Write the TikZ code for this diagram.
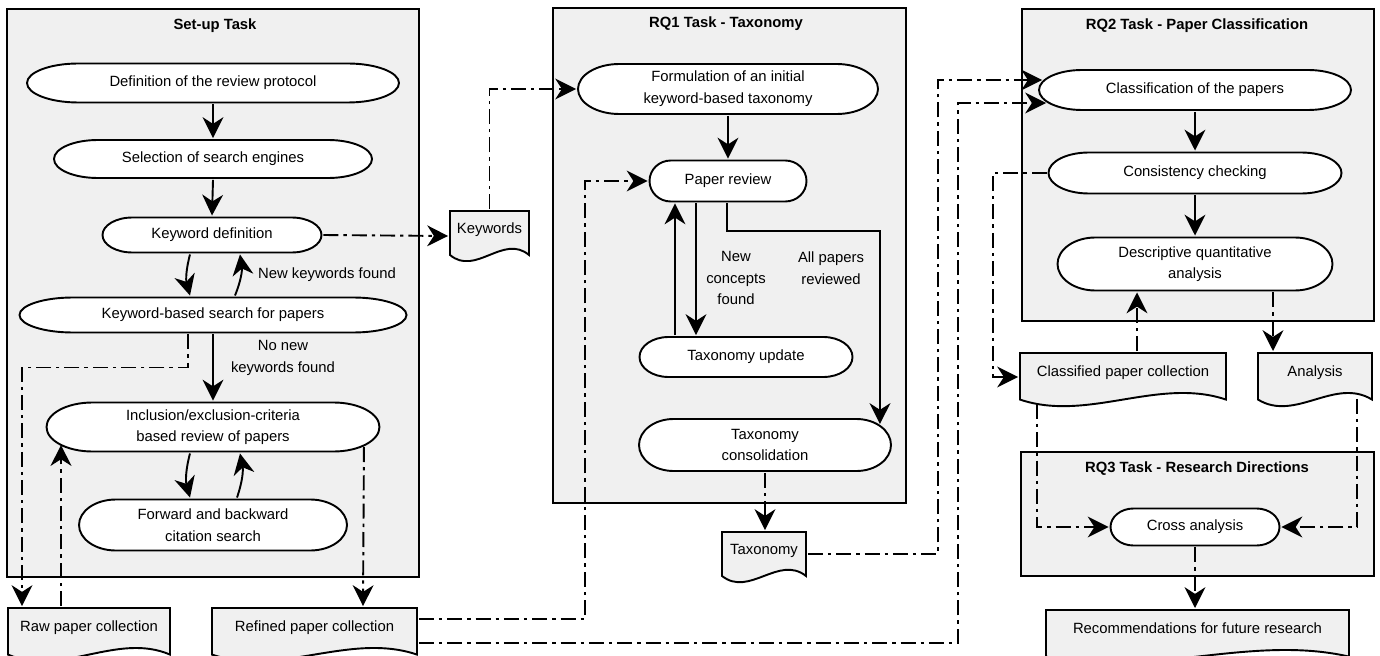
\documentclass[tikz,border=0pt]{standalone}
\usepackage{fontspec}
\setmainfont{Liberation Sans}
\usepackage{tikz}
\usetikzlibrary{calc,arrows.meta}
\definecolor{taskgray}{HTML}{F0F0F0}

\begin{document}
\begin{tikzpicture}[x=0.6pt, y=-0.6pt, line width=1.15pt,
    every node/.style={font=\fontsize{8.9pt}{13pt}\selectfont},
    arr/.style={-{Stealth[length=12.5pt,width=12.5pt,inset=4pt]}},
    dataflow/.style={arr, dash pattern=on 9pt off 3pt on 2pt off 3pt},
    taskbox/.style 2 args={draw, fill=taskgray, inner sep=0pt,
      minimum width=#1*0.6pt, minimum height=#2*0.6pt},
    tasktitle/.style={font=\fontsize{8.9pt}{13pt}\selectfont\bfseries},
    note/.style={align=center},
    proc/.style 2 args={rectangle, inner sep=1pt, align=center,
      minimum width=#1*0.6pt, minimum height=#2*0.6pt,
      path picture={
        \draw[fill=white] let \p1=(path picture bounding box.south west),
          \p2=(path picture bounding box.north east),
          \n1={0.14*(\x2-\x1)}, \n2={0.5*(\y2-\y1)-0.6}
          in (\x1+\n1*1pt,\y2-0.6pt) -- (\x2-\n1*1pt,\y2-0.6pt)
          arc[start angle=90, end angle=-90, x radius=\n1*1pt-0.6pt, y radius=\n2*1pt]
          -- (\x1+\n1*1pt,\y1+0.6pt)
          arc[start angle=270, end angle=90, x radius=\n1*1pt-0.6pt, y radius=\n2*1pt]
          -- cycle;
      }},
    docshape/.style 2 args={rectangle, inner sep=1pt,
      minimum width=#1*0.6pt, minimum height=#2*0.6pt,
      text height=6.5pt, text depth=9.7pt,
      path picture={
        \draw[fill=taskgray] let \p1=(path picture bounding box.south west),
          \p2=(path picture bounding box.north east),
          \n1={\x2-\x1}, \n2={\y2-\y1}
          in (\x1+0.6pt,\y2-0.6pt) -- (\x2-0.6pt,\y2-0.6pt)
          -- (\x2-0.6pt,\y1+0.135*\n2*1pt)
          .. controls (\x1+0.67*\n1*1pt,\y1+0.55*\n2*1pt) and (\x1+0.33*\n1*1pt,\y1-0.28*\n2*1pt)
          .. (\x1+0.6pt,\y1+0.135*\n2*1pt) -- cycle;
      }}]
        \useasboundingbox (0,0) rectangle (1380,656);

        % task boxes
        \node[taskbox={412}{568}] (setup) at (213,293) {};
        \node[taskbox={353}{495}] (rq1) at (729.5,255.5) {};
        \node[taskbox={352}{312}] (rq2) at (1198,165) {};
        \node[taskbox={353}{124}] (rq3) at (1197.5,514) {};
        \node[tasktitle] (setupt) at (215,26) {Set-up Task};
        \node[tasktitle] (rq1t) at (726,24) {RQ1 Task - Taxonomy};
        \node[tasktitle] (rq2t) at (1197,26) {RQ2 Task - Paper Classification};
        \node[tasktitle] (rq3t) at (1197,469) {RQ3 Task - Research Directions};

        % set-up task
        \node[proc={374}{41}] (defn) at (213,83) {Definition of the review protocol};
        \node[proc={320}{40}] (engines) at (213,159) {Selection of search engines};
        \node[proc={221}{37}] (kwdef) at (212,235) {Keyword definition};
        \node[proc={389}{37}] (kwsearch) at (213,315) {Keyword-based search for papers};
        \node[proc={335}{51}] (incl) at (213,427) {Inclusion/exclusion-criteria\\based review of papers};
        \node[proc={270}{53}] (fwd) at (213,525) {Forward and backward\\citation search};

        % RQ1
        \node[proc={302}{52}] (formul) at (728,89) {Formulation of an initial\\keyword-based taxonomy};
        \node[proc={159}{43}] (review) at (728,181) {Paper review};
        \node[proc={215}{42}] (update) at (746,357) {Taxonomy update};
        \node[proc={254}{54}] (consol) at (765,445) {Taxonomy\\consolidation};

        % RQ2 and RQ3
        \node[proc={314}{42}] (classif) at (1195,90) {Classification of the papers};
        \node[proc={295}{43}] (consist) at (1195,173) {Consistency checking};
        \node[proc={277}{55}] (descr) at (1195,264) {Descriptive quantitative\\analysis};
        \node[proc={171}{39}] (cross) at (1195,527) {Cross analysis};

        % documents
        \node[docshape={164}{55}] (raw) at (89,634.5) {Raw paper collection};
        \node[docshape={207}{55}] (refined) at (314.5,634.5) {Refined paper collection};
        \node[docshape={81}{52}] (keywords) at (489.5,236) {Keywords};
        \node[docshape={86}{52}] (taxonomy) at (764,557) {Taxonomy};
        \node[docshape={208}{55}] (classified) at (1123,379.5) {Classified paper collection};
        \node[docshape={116}{55}] (analysis) at (1315,379.5) {Analysis};
        \node[docshape={305}{55}] (recomm) at (1197.5,636.5) {Recommendations for future research};

        % labels
        \node[note] (newkw) at (327,275) {New keywords found};
        \node[note] (nonewkw) at (283,358) {No new\\keywords found};
        \node[note] (newcon) at (736,278) {New\\concepts\\found};
        \node[note] (allrev) at (831,268) {All papers\\reviewed};

        % control flow
        \draw (defn.south) edge[arr] (engines.north)
              (engines.south) edge[arr] (kwdef.north)
              (kwsearch.south) edge[arr] (incl.north)
              (formul.south) edge[arr] (review.north)
              (classif.south) edge[arr] (consist.north)
              (consist.south) edge[arr] (descr.north);
        \draw[arr] ($(kwdef.south)+(-22,0)$) to[bend right=15] ($(kwsearch.north)+(-23,0)$);
        \draw[arr] ($(kwsearch.north)+(22,0)$) to[bend right=15] ($(kwdef.south)+(28,0)$);
        \draw[arr] ($(incl.south)+(-23,0)$) to[bend right=15] ($(fwd.north)+(-23,0)$);
        \draw[arr] ($(fwd.north)+(24,0)$) to[bend right=15] ($(incl.south)+(27,0)$);
        \draw[arr] ($(review.south)+(-32,0)$) -- ($(update.north)+(-50,0)$);
        \draw[arr] ($(update.north)+(-71,0)$) -- ($(review.south)+(-53,0)$);
        \draw[arr] ($(review.south)+(-1,0)$) -- ++(0,27.5) -| ($(consol.east)+(-13,-21)$);

        % data flow
        \draw[dataflow] ($(kwsearch.south)+(-25,0)$) -- ++(0,33) -| ($(raw.north)+(-67,0)$);
        \draw[dataflow] ($(raw.north)+(-28,0)$) -- ++(0,-161);
        \draw[dataflow] ($(incl.east)+(-17.5,20)$) -- ($(refined.north)+(48.5,0)$);
        \draw[dataflow] (kwdef.east) -- (keywords.west);
        \draw[dataflow] (keywords.north) |- (formul.west);
        \draw[dataflow] ($(refined.east)+(0,-15.5)$) -- ++(166,0) |- (review.west);
        \draw[dataflow] ($(refined.east)+(0,8.5)$) -- ++(539,0) |- ($(classif.west)+(9,13)$);
        \draw[dataflow] (consol.south) -- (consol.south |- taxonomy.north);
        \draw[dataflow] ($(taxonomy.east)+(0,-3)$) -- ++(130,0) |- ($(classif.west)+(5,-10)$);
        \draw[dataflow] (consist.west) -- ++(-53.5,0) |- ($(classified.west)+(0,-2.5)$);
        \draw[dataflow] ($(classified.north)+(14,0)$) -- ($(descr.south)+(-58,0)$);
        \draw[dataflow] ($(descr.south)+(78,0)$) -- ($(analysis.north)+(-42,0)$);
        \draw[dataflow] ($(classified.south west)+(19,-4)$) |- (cross.west);
        \draw[dataflow] ($(analysis.south east)+(-17,-9)$) |- (cross.east);
        \draw[dataflow] (cross.south) -- (cross.south |- recomm.north);

      \end{tikzpicture}
\end{document}
